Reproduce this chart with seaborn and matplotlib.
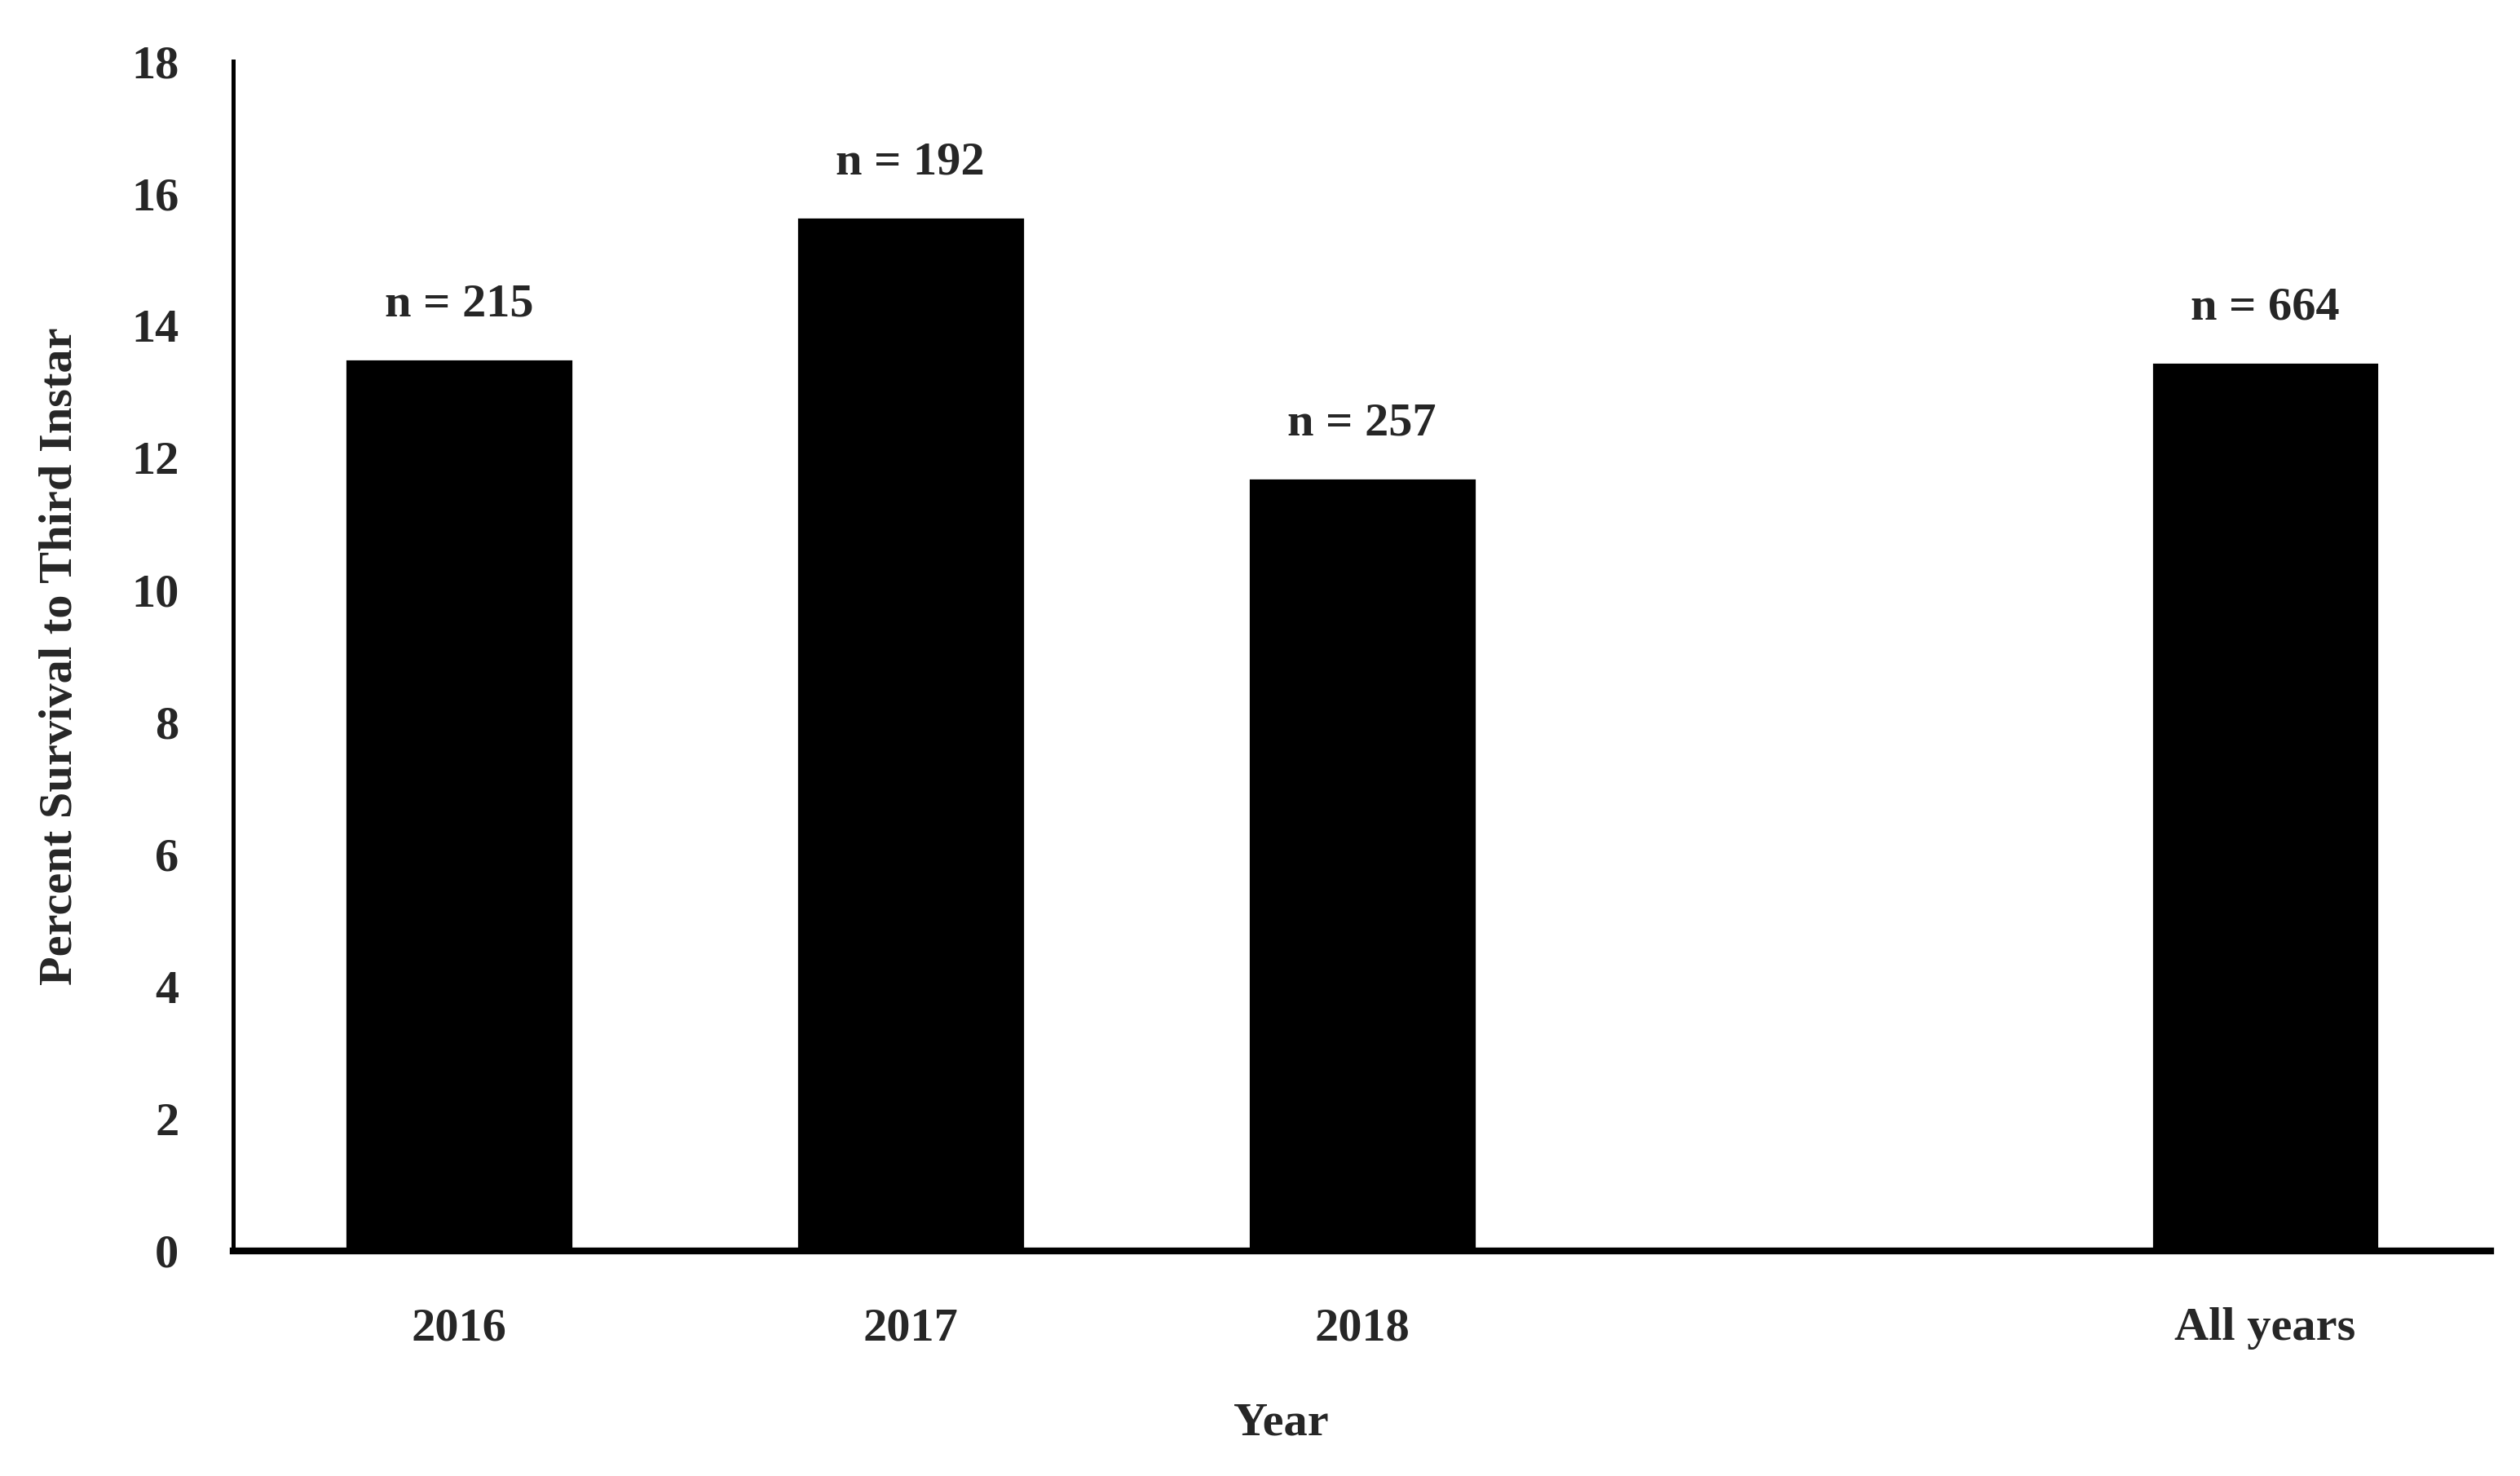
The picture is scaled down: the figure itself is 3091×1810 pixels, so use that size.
import numpy as np
import pandas as pd
import matplotlib
matplotlib.use("Agg")
import matplotlib.pyplot as plt
import seaborn as sns

# Data
years = ["2016", "2017", "2018", " ", "All years"]
survival = [13.5, 15.65, 11.7, np.nan, 13.45]
n_labels = ["n = 215", "n = 192", "n = 257", "", "n = 664"]

sns.set_style("white")
plt.rcParams['font.family'] = ['Liberation Serif', 'DejaVu Serif']
plt.rcParams['font.weight'] = 'bold'

df = pd.DataFrame({'year': years, 'survival': survival})

fig = plt.figure(figsize=(15.455, 9.05), dpi=200)
ax = fig.add_axes([0.0925, 0.1525, 0.896, 0.806])

sns.barplot(data=df, x='year', y='survival', order=years, color='black',
            width=0.505, saturation=1, ax=ax, errorbar=None)

# n labels above bars
for i, (v, lab) in enumerate(zip(survival, n_labels)):
    if lab and not np.isnan(v):
        ax.text(i, v + 0.5, lab, ha='center', va='bottom', fontsize=21, fontweight='bold')

ax.set_xlim(-0.5, 4.5)
ax.set_ylim(0, 18)
ax.set_yticks(range(0, 19, 2))
ax.tick_params(axis='both', length=0, labelsize=21)
ax.tick_params(axis='y', pad=24)
ax.tick_params(axis='x', pad=25)
for t in ax.get_xticklabels() + ax.get_yticklabels():
    t.set_fontweight('bold')

ax.set_xlabel('Year', fontsize=21, fontweight='bold')
ax.xaxis.set_label_coords(0.464, -0.127)
ax.set_ylabel('Percent Survival to Third Instar', fontsize=21, fontweight='bold', labelpad=22)

sns.despine(ax=ax, top=True, right=True)
ax.spines['left'].set_linewidth(1.8)
ax.spines['bottom'].set_linewidth(3.0)
ax.spines['left'].set_color('black')
ax.spines['bottom'].set_color('black')

fig.savefig('out.png', dpi=200, facecolor='white')
